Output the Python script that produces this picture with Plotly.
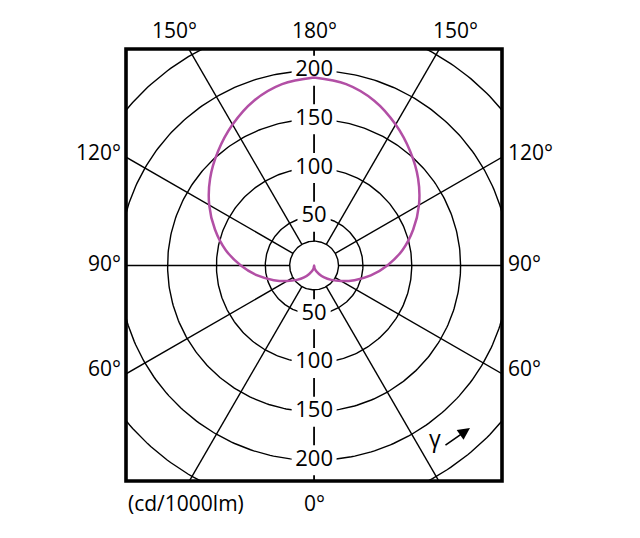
import numpy as np
import plotly.graph_objs as go

# luminous intensity (cd/1000lm) vs gamma angle
gamma = [0, 10, 20, 30, 40, 50, 60, 70, 80, 90, 100, 110, 120, 130, 140, 150, 160, 170, 180]
intensity = [0, 3, 6, 10, 16, 23, 32, 44, 59, 75, 92, 108, 124, 139, 153, 167, 180, 189, 193]

ring_values = [25, 50, 100, 150, 200, 250]
ring_labels = [50, 100, 150, 200]
spoke_angles = [0, 30, 60, 90, 120, 150, 180]

top_labels = ['150°', '180°', '150°']
side_labels = ['120°', '90°', '60°']
bottom_labels = ['(cd/1000lm)', '0°']
unit_label = 'γ'

FONT = 'Open Sans'
PURPLE = '#b24fa5'


def polar_xy(r, deg):
    # gamma measured from straight down, right half of the diagram
    t = np.radians(deg)
    return r * np.sin(t), -r * np.cos(t)


def main():
    # grid: rings and spokes
    gx, gy = [], []
    t = np.linspace(0, 2 * np.pi, 361)
    for r in ring_values:
        gx += list(r * np.cos(t)) + [None]
        gy += list(r * np.sin(t)) + [None]
    for a in spoke_angles:
        for side in (1, -1):
            x0, y0 = polar_xy(ring_values[0], a)
            x1, y1 = polar_xy(400, a)
            gx += [side * x0, side * x1, None]
            gy += [y0, y1, None]
    grid = go.Scatter(x=gx, y=gy, mode='lines', line=dict(color='black', width=1.4),
                      hoverinfo='skip', showlegend=False)

    # white patches behind ring labels
    mx, my, tx, ty, tt = [], [], [], [], []
    for v in ring_labels:
        half = 23 if v >= 100 else 17
        for s in (1, -1):
            mx += [-half, half, None]
            my += [s * v, s * v, None]
            tx.append(0)
            ty.append(s * v)
            tt.append(str(v))
    mask = go.Scatter(x=mx, y=my, mode='lines', line=dict(color='white', width=30),
                      hoverinfo='skip', showlegend=False)
    labels = go.Scatter(x=tx, y=ty, mode='text', text=tt, textposition='middle center',
                        textfont=dict(family=FONT, size=22, color='black'),
                        hoverinfo='skip', showlegend=False)

    # intensity curve, both halves
    rx, ry = polar_xy(np.array(intensity, float), np.array(gamma, float))
    cx = list(rx) + list(-rx[::-1])
    cy = list(ry) + list(ry[::-1])
    curve = go.Scatter(x=cx, y=cy, mode='lines',
                       line=dict(color=PURPLE, width=2.5, shape='spline', smoothing=1),
                       hoverinfo='skip', showlegend=False)

    font = dict(family=FONT, size=21, color='black')
    ann = []
    for lab, x in zip(top_labels, [-143, 0.7, 145]):
        ann.append(dict(text=lab, x=x, y=1, xref='x', yref='paper', yshift=19,
                        showarrow=False, font=font, xanchor='center', yanchor='middle'))
    for lab, y in zip(side_labels, [116.6, 2.3, -105.4]):
        ann.append(dict(text=lab, x=0, y=y, xref='paper', yref='y', xshift=-3,
                        showarrow=False, font=font, xanchor='right', yanchor='middle'))
        ann.append(dict(text=lab, x=1, y=y, xref='paper', yref='y', xshift=4,
                        showarrow=False, font=font, xanchor='left', yanchor='middle'))
    for lab, x in zip(bottom_labels, [-130.8, 0]):
        ann.append(dict(text=lab, x=x, y=0, xref='x', yref='paper', yshift=-22,
                        showarrow=False, font=font, xanchor='center', yanchor='middle'))
    ann.append(dict(text=unit_label, x=123.7, y=-176.8, xref='x', yref='y',
                    showarrow=False, font=dict(family=FONT, size=23, color='black')))
    ann.append(dict(text='', x=159.6, y=-166.9, xref='x', yref='y', ax=-26, ay=18,
                    showarrow=True, arrowhead=2, arrowsize=1.5, arrowwidth=1.6,
                    arrowcolor='black', standoff=0, startstandoff=0))

    # page body adds 8px, margins account for it
    layout = go.Layout(
        width=640, height=538,
        margin=dict(l=118.3, r=146, t=40.7, b=64.7, pad=0),
        paper_bgcolor='white', plot_bgcolor='white',
        xaxis=dict(range=[-192.6, 192.4], visible=False, fixedrange=True),
        yaxis=dict(range=[-221.2, 222.2], visible=False, fixedrange=True),
        shapes=[dict(type='rect', xref='paper', yref='paper', x0=0, y0=0, x1=1, y1=1,
                     line=dict(color='black', width=3.6), layer='above')],
        annotations=ann,
        showlegend=False,
    )
    fig = go.Figure(data=[grid, mask, labels, curve], layout=layout)
    fig.write_html('out.html')


if __name__ == '__main__':
    main()
